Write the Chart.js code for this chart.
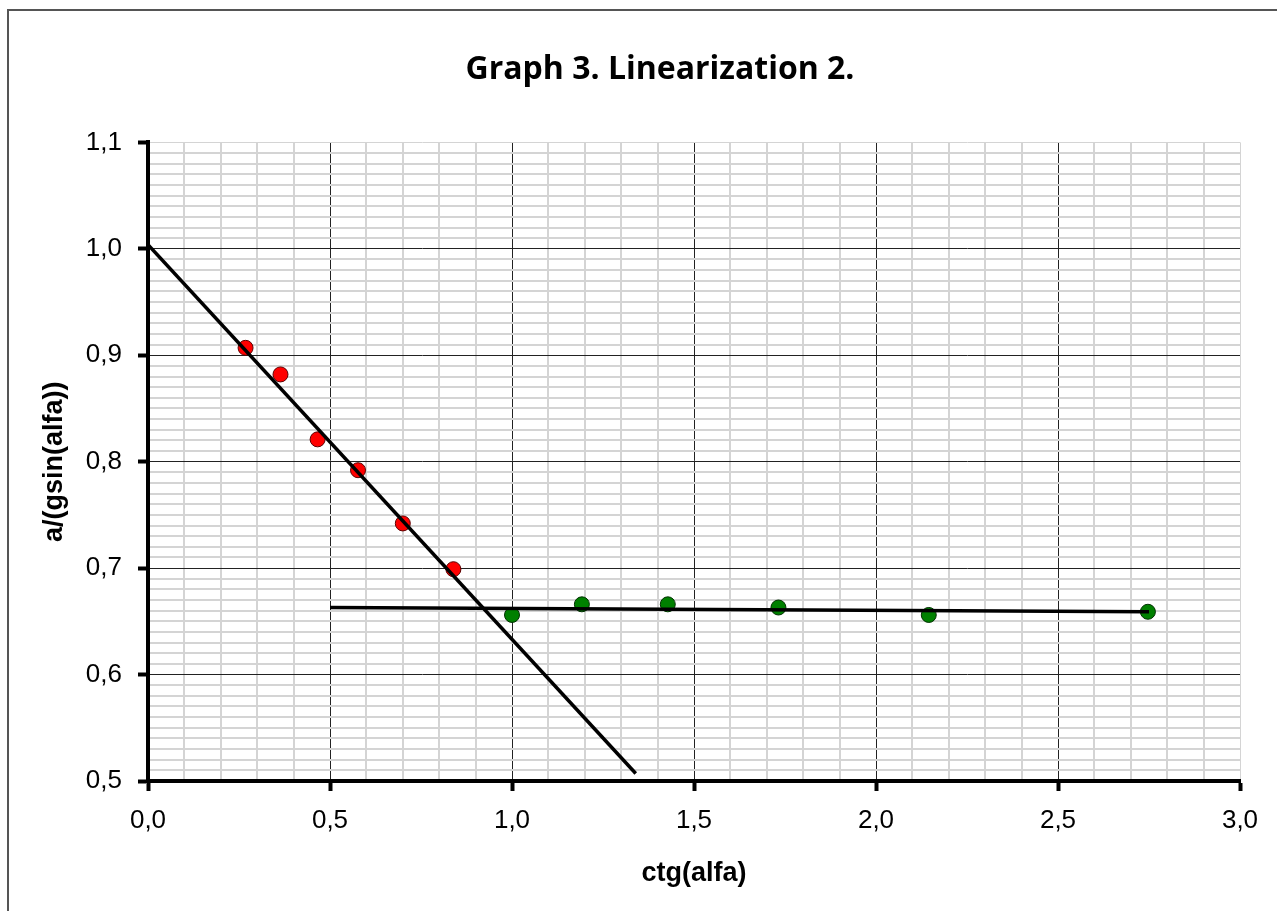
<!DOCTYPE html>
<html>
<head>
<meta charset="utf-8">
<script src="https://cdn.jsdelivr.net/npm/chart.js@4"></script>
<style>
  html, body { margin: 0; padding: 0; background: #fff; }
  #wrap { position: absolute; left: 0; top: 0; width: 1277px; height: 911px; }
  #frame { position: absolute; left: 7px; top: 9px; width: 1300px; height: 950px;
           border-left: 2px solid #555; border-top: 2px solid #555; pointer-events: none; }
</style>
</head>
<body>
<div id="frame"></div>
<div id="wrap"><canvas id="chart"></canvas></div>
<script>
// red points (ctg of 75..50 deg)
const redX = [0.268, 0.364, 0.466, 0.577, 0.700, 0.839];
const redY = [0.907, 0.882, 0.821, 0.792, 0.742, 0.699];
// green points (ctg of 45..20 deg)
const greenX = [1.000, 1.192, 1.428, 1.732, 2.145, 2.747];
const greenY = [0.656, 0.666, 0.666, 0.663, 0.656, 0.659];
// trendline ends
const redTrendX = [0, 1.34];
const redTrendY = [1.004, 0.507];
const greenTrendX = [0.5, 2.75];
const greenTrendY = [0.663, 0.659];

const toPoints = (xs, ys) => xs.map((x, i) => ({ x: x, y: ys[i] }));
const comma = v => v.toFixed(1).replace('.', ',');

const isMajorY = v => Math.round(v * 100) % 10 === 0;
const isMajorX = v => Math.round(v * 10) % 5 === 0;

const ctx = document.getElementById('chart').getContext('2d');
new Chart(ctx, {
    type: 'scatter',
    data: {
        datasets: [
            {
                data: toPoints(redTrendX, redTrendY),
                showLine: true, borderColor: '#000', borderWidth: 3.5,
                pointRadius: 0, order: 0
            },
            {
                data: toPoints(greenTrendX, greenTrendY),
                showLine: true, borderColor: '#000', borderWidth: 3.5,
                pointRadius: 0, order: 0
            },
            {
                data: toPoints(redX, redY),
                backgroundColor: '#ff0000', borderColor: '#5a0000', borderWidth: 1,
                pointRadius: 7.5, order: 1
            },
            {
                data: toPoints(greenX, greenY),
                backgroundColor: '#008000', borderColor: '#003000', borderWidth: 1,
                pointRadius: 7.5, order: 1
            }
        ]
    },
    options: {
        responsive: true,
        maintainAspectRatio: false,
        animation: false,
        // left padding shifts the title centre; the y axis box fills the rest
        layout: { padding: { left: 80, right: 37, top: 0, bottom: 0 } },
        plugins: {
            legend: { display: false },
            tooltip: { enabled: false },
            title: {
                display: true,
                text: 'Graph 3. Linearization 2.',
                color: '#000',
                font: { family: 'Open Sans', size: 32, weight: 'bold' },
                padding: { top: 51, bottom: 53 }
            }
        },
        scales: {
            x: {
                type: 'linear', min: 0, max: 3,
                afterFit: s => { s.height = 130; },
                ticks: {
                    stepSize: 0.1, autoSkip: false, maxRotation: 0,
                    padding: 14, color: '#000',
                    font: { family: 'Liberation Sans', size: 26 },
                    callback: v => isMajorX(v) ? comma(v) : ''
                },
                grid: {
                    color: c => c.tick && isMajorX(c.tick.value) && c.tick.value < 3 ? '#222' : '#d4d4d4',
                    lineWidth: c => c.tick && isMajorX(c.tick.value) ? 1 : 2,
                    tickLength: 10,
                    tickColor: c => c.tick && isMajorX(c.tick.value) ? '#000' : 'transparent',
                    tickWidth: 4
                },
                border: { color: '#000', width: 4 },
                title: {
                    display: true, text: 'ctg(alfa)', color: '#000',
                    font: { family: 'Liberation Sans', size: 27, weight: 'bold' },
                    padding: { top: 0, bottom: 21 }
                }
            },
            y: {
                type: 'linear', min: 0.5, max: 1.1,
                afterFit: s => { s.width = 68; },
                ticks: {
                    stepSize: 0.01, autoSkip: false,
                    padding: 16, color: '#000',
                    font: { family: 'Liberation Sans', size: 26 },
                    callback: v => isMajorY(v) ? comma(v) : ''
                },
                grid: {
                    color: c => c.tick && isMajorY(c.tick.value) && c.tick.value < 1.09 ? '#222' : '#d4d4d4',
                    lineWidth: c => c.tick && isMajorY(c.tick.value) ? 1 : 2,
                    tickLength: 10,
                    tickColor: c => c.tick && isMajorY(c.tick.value) ? '#000' : 'transparent',
                    tickWidth: 4
                },
                border: { color: '#000', width: 4 },
                title: {
                    display: true, text: 'a/(gsin(alfa))', color: '#000',
                    font: { family: 'Liberation Sans', size: 27, weight: 'bold' },
                    padding: { top: -42, bottom: 0 }
                }
            }
        }
    }
});
</script>
</body>
</html>
